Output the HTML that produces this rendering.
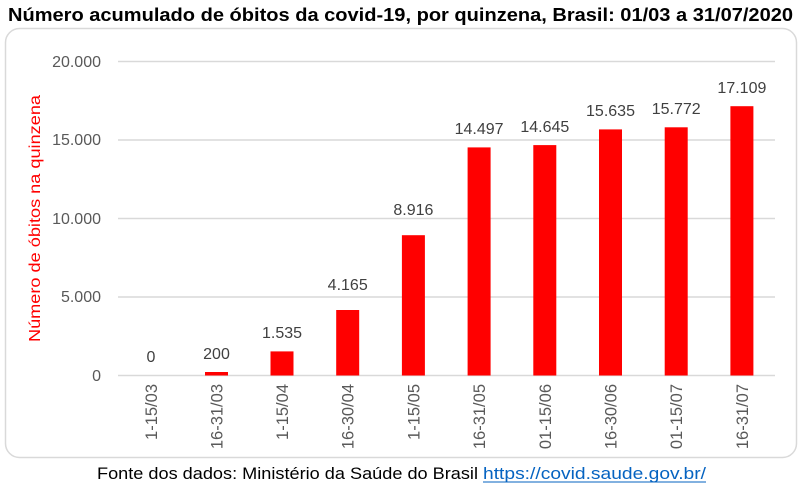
<!DOCTYPE html>
<html><head><meta charset="utf-8"><style>
body{margin:0;background:#fff;width:802px;height:487px;overflow:hidden;font-family:"Liberation Sans",sans-serif}
</style></head><body>
<svg width="802" height="487" xmlns="http://www.w3.org/2000/svg" font-family="Liberation Sans, sans-serif">
<text x="8" y="21" font-size="18" font-weight="bold" fill="#000" textLength="785" lengthAdjust="spacingAndGlyphs">Número acumulado de óbitos da covid-19, por quinzena, Brasil: 01/03 a 31/07/2020</text>
<rect x="5.5" y="28.5" width="791" height="429" rx="14" fill="#fff" stroke="#d9d9d9" stroke-width="1.5"/>
<g stroke="#d9d9d9" stroke-width="1.5">
<line x1="118" x2="775" y1="61.5" y2="61.5"/>
<line x1="118" x2="775" y1="140" y2="140"/>
<line x1="118" x2="775" y1="218.5" y2="218.5"/>
<line x1="118" x2="775" y1="297" y2="297"/>
<line x1="118" x2="775" y1="375.5" y2="375.5"/>
</g>
<g font-size="16" fill="#595959" text-anchor="end">
<text x="101" y="67">20.000</text>
<text x="101" y="145">15.000</text>
<text x="101" y="224">10.000</text>
<text x="101" y="302">5.000</text>
<text x="101" y="381">0</text>
</g>
<text transform="translate(40,342) rotate(-90)" font-size="16" fill="#ff0000" textLength="247" lengthAdjust="spacingAndGlyphs">Número de óbitos na quinzena</text>
<g fill="#ff0000">
<rect x="205" y="372" width="23" height="3.5"/>
<rect x="270.5" y="351.4" width="23" height="24.1"/>
<rect x="336.2" y="310" width="23" height="65.5"/>
<rect x="401.9" y="235.2" width="23" height="140.3"/>
<rect x="467.6" y="147.4" width="23" height="228.1"/>
<rect x="533.3" y="145.1" width="23" height="230.4"/>
<rect x="599" y="129.4" width="23" height="246.1"/>
<rect x="664.7" y="127.3" width="23" height="248.2"/>
<rect x="730.4" y="106.2" width="23" height="269.3"/>
</g>
<g font-size="16" fill="#404040" text-anchor="middle">
<text x="151" y="362">0</text>
<text x="216.5" y="359">200</text>
<text x="282" y="338">1.535</text>
<text x="347.7" y="290">4.165</text>
<text x="413.4" y="215">8.916</text>
<text x="479.1" y="134">14.497</text>
<text x="544.8" y="132">14.645</text>
<text x="610.5" y="116">15.635</text>
<text x="676.2" y="114">15.772</text>
<text x="741.9" y="93">17.109</text>
</g>
<g font-size="16.5" fill="#595959" text-anchor="end">
<text transform="translate(157,384) rotate(-90)">1-15/03</text>
<text transform="translate(222.5,384) rotate(-90)">16-31/03</text>
<text transform="translate(288,384) rotate(-90)">1-15/04</text>
<text transform="translate(353.7,384) rotate(-90)">16-30/04</text>
<text transform="translate(419.4,384) rotate(-90)">1-15/05</text>
<text transform="translate(485.1,384) rotate(-90)">16-31/05</text>
<text transform="translate(550.8,384) rotate(-90)">01-15/06</text>
<text transform="translate(616.5,384) rotate(-90)">16-30/06</text>
<text transform="translate(682.2,384) rotate(-90)">01-15/07</text>
<text transform="translate(747.9,384) rotate(-90)">16-31/07</text>
</g>
<text x="97" y="479" font-size="17" fill="#000" textLength="381" lengthAdjust="spacingAndGlyphs">Fonte dos dados: Ministério da Saúde do Brasil</text>
<text x="483" y="479" font-size="17" fill="#0563c1" textLength="223" lengthAdjust="spacingAndGlyphs">https://covid.saude.gov.br/</text>
<line x1="483" x2="706" y1="482" y2="482" stroke="#0563c1" stroke-width="1"/>
</svg>
</body></html>
